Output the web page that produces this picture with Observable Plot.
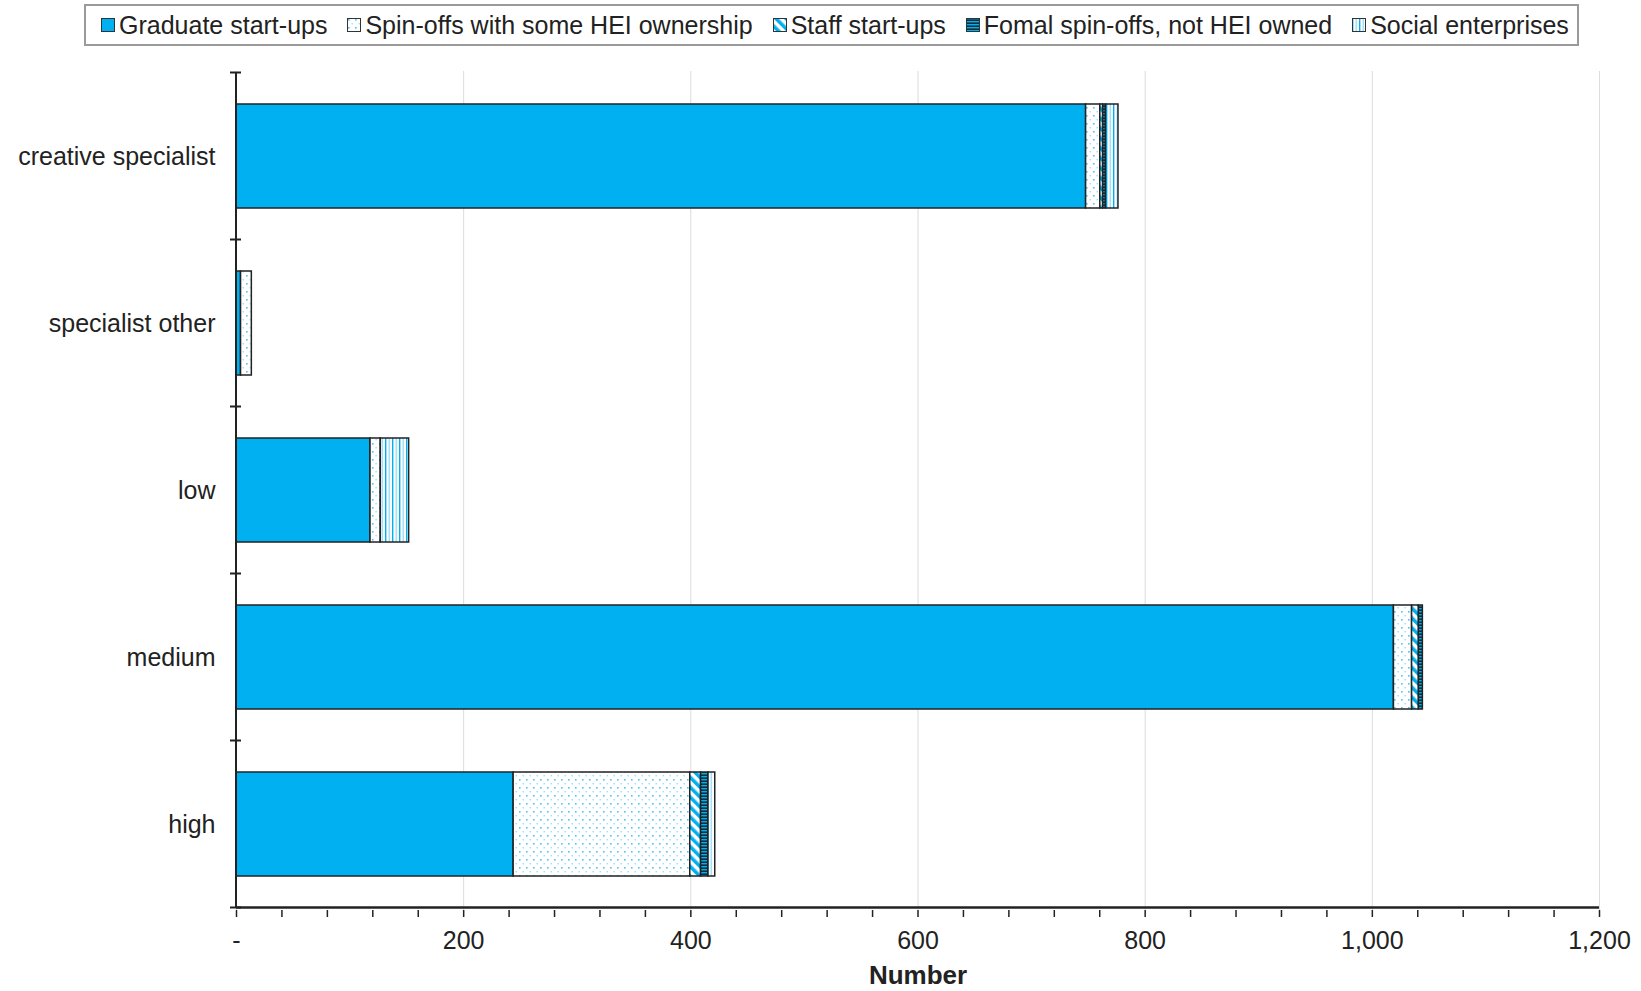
<!DOCTYPE html>
<html>
<head>
<meta charset="utf-8">
<script src="https://cdn.jsdelivr.net/npm/d3@7"></script>
<script src="https://cdn.jsdelivr.net/npm/@observablehq/plot@0.6"></script>
<style>
  body { margin: 0; background: #fff; font-family: "Liberation Sans", Arial, sans-serif; color: #222; }
  #legendWrap { position: relative; width: 1641px; height: 50px; }
  #legend { position: absolute; left: 84px; top: 4px; width: 1495px; height: 42px; box-sizing: border-box;
            border: 2px solid #9a9a9a; display: flex; align-items: center; padding-left: 15px; gap: 20px;
            font-size: 25px; white-space: nowrap; }
  .item { display: flex; align-items: center; }
  .item svg { margin-right: 4px; }
</style>
</head>
<body>
<svg width="0" height="0" style="position:absolute">
  <defs>
    <pattern id="p-spin" patternUnits="userSpaceOnUse" width="7" height="8">
      <rect width="7" height="8" fill="#fff"/>
      <rect x="1" y="1" width="1.6" height="1.6" fill="#4fc4f1"/>
      <rect x="4.5" y="5" width="1.4" height="1.4" fill="#9fdcf6"/>
    </pattern>
    <pattern id="p-staff" patternUnits="userSpaceOnUse" width="7" height="7" patternTransform="rotate(-45)">
      <rect width="7" height="7" fill="#fff"/>
      <rect width="3.5" height="7" fill="#00B0F0"/>
    </pattern>
    <pattern id="p-formal" patternUnits="userSpaceOnUse" width="4" height="3">
      <rect width="4" height="3" fill="#0e2d3a"/>
      <rect y="0" width="4" height="1.4" fill="#00B0F0"/>
    </pattern>
    <pattern id="p-social" patternUnits="userSpaceOnUse" width="7" height="7">
      <rect width="7" height="7" fill="#fff"/>
      <rect x="0" width="1.4" height="7" fill="#00B0F0"/>
      <rect x="3.5" width="1.6" height="7" fill="#a6e1f8"/>
    </pattern>
  </defs>
</svg>
<div id="legendWrap"><div id="legend"></div></div>
<div id="chart"></div>
<script>
// ---- data ----
const categories = ["creative specialist", "specialist other", "low", "medium", "high"];
const seriesNames = ["Graduate start-ups", "Spin-offs with some HEI ownership", "Staff start-ups", "Fomal spin-offs, not HEI owned", "Social enterprises"];
const graduateStartups = [748, 4, 118, 1019, 244];
const spinoffsHEI      = [12.5, 9.5, 9, 16, 155.5];
const staffStartups    = [2.5, 0, 0, 6, 9.5];
const formalSpinoffs   = [2.5, 0, 0, 3.5, 6.5];
const socialEnterprises= [11, 0, 25, 0, 6];
const majorTicks = [0, 200, 400, 600, 800, 1000, 1200];
const xTickLabels = ["-", "200", "400", "600", "800", "1,000", "1,200"];
const minorTicks = d3.range(0, 1201, 40);

const seriesFills = ["#00B0F0", "url(#p-spin)", "url(#p-staff)", "url(#p-formal)", "url(#p-social)"];

const seriesValues = [graduateStartups, spinoffsHEI, staffStartups, formalSpinoffs, socialEnterprises];
const rows = [];
categories.forEach((c, i) => {
  seriesValues.forEach((arr, j) => {
    if (arr[i] > 0) rows.push({category: c, series: seriesNames[j], value: arr[i]});
  });
});

// ---- legend ----
const legend = document.getElementById("legend");
seriesNames.forEach((name, j) => {
  const item = document.createElement("div");
  item.className = "item";
  item.innerHTML = `<svg width="14" height="14"><rect x="0.5" y="0.5" width="13" height="13" fill="${seriesFills[j]}" stroke="#333" stroke-width="1"/></svg><span>${name}</span>`;
  legend.appendChild(item);
});

// ---- chart ----
const chart = Plot.plot({
  width: 1641,
  height: 941,
  marginTop: 21,
  marginBottom: 81,
  marginLeft: 236,
  marginRight: 42,
  style: {fontFamily: "Liberation Sans, Arial, sans-serif", fontSize: "25px", color: "#222", background: "#fff"},
  x: {domain: [0, 1200], label: null},
  y: {domain: categories, paddingInner: 0.375, paddingOuter: 0.1875, label: null},
  color: {type: "ordinal", domain: seriesNames, range: seriesFills},
  marks: [
    Plot.gridX({ticks: majorTicks, stroke: "#dcdcdc", strokeOpacity: 1, strokeWidth: 1}),
    Plot.barX(rows, Plot.stackX({x: "value", y: "category", fill: "series", stroke: "#222", strokeWidth: 1.5})),
    Plot.axisX({ticks: minorTicks, tickSize: 7, tickFormat: () => "", label: null, stroke: "#222", strokeWidth: 1.5}),
    Plot.axisX({ticks: majorTicks, tickSize: 0, tickPadding: 21, tickFormat: d => xTickLabels[majorTicks.indexOf(d)], label: null, fontSize: 25}),
    Plot.axisY({tickSize: 0, tickPadding: 21, label: null, fontSize: 25}),
    Plot.text(["Number"], {frameAnchor: "bottom", dy: 73, fontWeight: "bold", fontSize: 26, fill: "#222"})
  ]
});

// axis lines and category boundary ticks, positioned from the library's scales
const xs = chart.scale("x");
const ys = chart.scale("y");
const x0 = xs.apply(0), x1 = xs.apply(1200);
const half = (ys.step - ys.bandwidth) / 2;
const bounds = categories.map(c => ys.apply(c) - half);
bounds.push(ys.apply(categories[categories.length - 1]) + ys.bandwidth + half);
const yTop = bounds[0], yBot = bounds[bounds.length - 1];
const g = d3.select(chart).append("g").attr("stroke", "#222");
g.append("line").attr("x1", x0).attr("x2", x0).attr("y1", yTop).attr("y2", yBot).attr("stroke-width", 2);
g.append("line").attr("x1", x0).attr("x2", x1).attr("y1", yBot).attr("y2", yBot).attr("stroke-width", 2.5);
g.selectAll("line.bt").data(bounds).join("line").attr("class", "bt")
  .attr("x1", x0 - 6).attr("x2", x0 + 5).attr("y1", d => d).attr("y2", d => d).attr("stroke-width", 2);

document.getElementById("chart").appendChild(chart);
</script>
</body>
</html>
